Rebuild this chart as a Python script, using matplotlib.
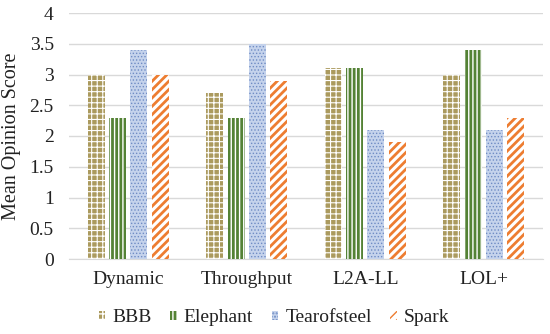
import numpy as np
import matplotlib
import matplotlib.pyplot as plt

plt.rcParams['font.family'] = ['Liberation Serif', 'DejaVu Serif']

categories = ['Dynamic', 'Throughput', 'L2A-LL', 'LOL+']
series_names = ['BBB', 'Elephant', 'Tearofsteel', 'Spark']
bbb = [3.0, 2.7, 3.1, 3.0]
elephant = [2.3, 2.3, 3.1, 3.4]
tearofsteel = [3.4, 3.5, 2.1, 2.1]
spark = [3.0, 2.9, 1.9, 2.3]
y_ticks = [0, 0.5, 1, 1.5, 2, 2.5, 3, 3.5, 4]
y_tick_labels = ['0', '0.5', '1', '1.5', '2', '2.5', '3', '3.5', '4']

# style per series: face colour, hatch colour, hatch pattern, hatch linewidth
styles = [
    ('#ab9a5e', '#ffffff', '+++', 0.8),
    ('#548235', '#ffffff', '||||', 1.0),
    ('#c5d3ec', '#6f8cc4', '.....', 0.6),
    ('#ffffff', '#ed7d31', '////', 2.0),
]

fig = plt.figure(figsize=(5.5, 3.34), dpi=100)
ax = fig.add_axes([69 / 550, 75 / 334, 474 / 550, 246 / 334])

x = np.arange(len(categories))
width = 0.143
pitch = 0.18
all_series = [bbb, elephant, tearofsteel, spark]
for i, (vals, name) in enumerate(zip(all_series, series_names)):
    face, hcol, hatch, hlw = styles[i]
    pos = x + (i - 1.5) * pitch
    with plt.rc_context({'hatch.linewidth': hlw}):
        bars = ax.bar(pos, vals, width=width, color=face, edgecolor=hcol,
                      hatch=hatch, linewidth=0, label=name, zorder=3)
    for b in bars:
        if hasattr(b, 'set_hatch_linewidth'):
            b.set_hatch_linewidth(hlw)

ax.set_ylim(0, 4)
ax.set_xlim(-0.5, 3.5)
ax.set_yticks(y_ticks)
ax.set_yticklabels(y_tick_labels)
ax.set_xticks(x)
ax.set_xticklabels(categories)
ax.tick_params(axis='both', length=0, labelsize=14, colors='#222222')
ax.tick_params(axis='x', pad=9)
ax.tick_params(axis='y', pad=11)
ax.grid(axis='y', color='#d9d9d9', linewidth=1, zorder=0)
for s in ['top', 'right', 'left']:
    ax.spines[s].set_visible(False)
ax.spines['bottom'].set_color('#d9d9d9')
ax.set_ylabel('Mean Opinion Score', fontsize=14.5, color='#222222', labelpad=6)

leg = fig.legend(*ax.get_legend_handles_labels(), loc='center',
                 bbox_to_anchor=(274 / 550, 16 / 334), ncol=4,
                 frameon=False, fontsize=14, handlelength=0.35, handleheight=0.35,
                 handletextpad=0.35, columnspacing=0.95)
for t in leg.get_texts():
    t.set_color('#222222')

fig.savefig('out.png', dpi=100)
